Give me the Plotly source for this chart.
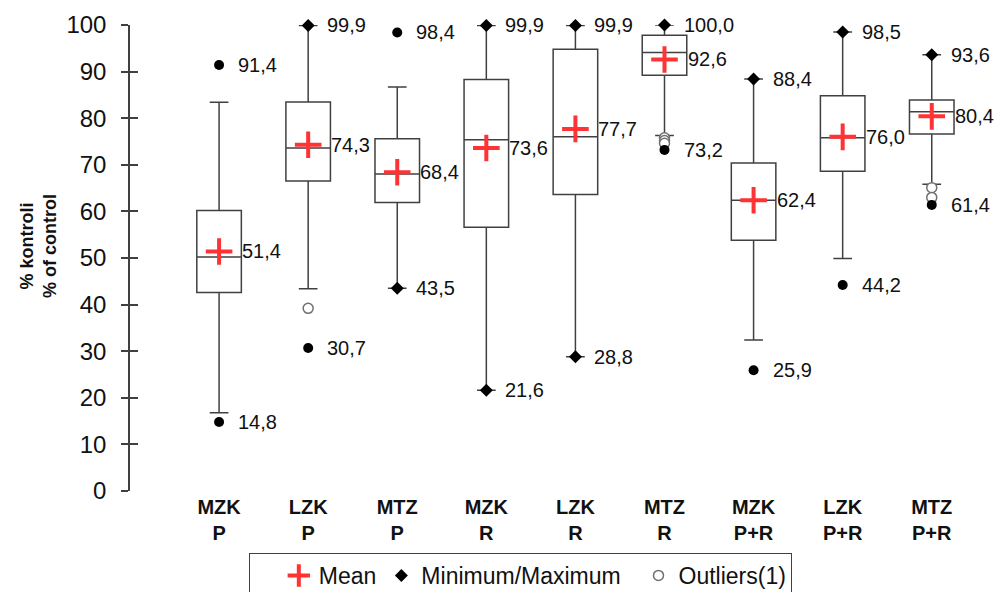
import plotly.graph_objects as go

categories = ["MZK<br>P", "LZK<br>P", "MTZ<br>P", "MZK<br>R", "LZK<br>R",
              "MTZ<br>R", "MZK<br>P+R", "LZK<br>P+R", "MTZ<br>P+R"]
q1 = [42.6, 66.5, 61.9, 56.6, 63.6, 89.2, 53.8, 68.6, 76.6]
median = [50.2, 73.6, 68.0, 75.4, 76.0, 94.1, 62.4, 75.8, 81.4]
q3 = [60.2, 83.5, 75.6, 88.3, 94.8, 97.8, 70.4, 84.8, 83.9]
lower_whisker = [16.8, 43.4, 43.5, 21.6, 28.8, 76.3, 32.4, 49.9, 65.8]
upper_whisker = [83.4, 99.9, 86.7, 99.9, 99.9, 100.0, 88.4, 98.5, 93.6]
means = [51.4, 74.3, 68.4, 73.6, 77.7, 92.6, 62.4, 76.0, 80.4]
minimums = [14.8, 30.7, 43.5, 21.6, 28.8, 73.2, 25.9, 44.2, 61.4]
maximums = [91.4, 99.9, 98.4, 99.9, 99.9, 100.0, 88.4, 98.5, 93.6]
outlier_index = [1, 5, 5, 5, 8, 8]
outlier_values = [39.2, 75.8, 75.2, 74.6, 65.1, 63.0]
y_ticks = [0, 10, 20, 30, 40, 50, 60, 70, 80, 90, 100]

FONT = "Liberation Sans, Arial, sans-serif"
TXT = "#111111"
LINE = "#404040"


def fmt(v):
    return f"{v:.1f}".replace(".", ",")


fig = go.Figure()

fig.add_trace(go.Box(
    x=categories, q1=q1, median=median, q3=q3,
    lowerfence=lower_whisker, upperfence=upper_whisker,
    boxpoints=False, fillcolor="white",
    line=dict(color=LINE, width=1.5), width=0.5, whiskerwidth=0.42,
    showlegend=False, hoverinfo="skip",
))

fig.add_trace(go.Scatter(
    x=categories, y=means, mode="markers", name="Mean", legendrank=1,
    marker=dict(symbol="cross-thin", size=19, color="#ff3333",
                line=dict(color="#ff3333", width=4)),
))

# min / max split into on-whisker (diamond) and beyond-whisker (dot)
ext_cat, ext_val, on_cat, on_val = [], [], [], []
for i, c in enumerate(categories):
    for v, w in ((minimums[i], lower_whisker[i]), (maximums[i], upper_whisker[i])):
        if abs(v - w) < 0.05:
            on_cat.append(c); on_val.append(v)
        else:
            ext_cat.append(c); ext_val.append(v)

fig.add_trace(go.Scatter(
    x=[categories[i] for i in outlier_index], y=outlier_values, mode="markers",
    name="Outliers(1)", legendrank=3, cliponaxis=False,
    marker=dict(symbol="circle", size=10, color="white",
                line=dict(color="#707070", width=1.5)),
))

fig.add_trace(go.Scatter(
    x=on_cat, y=on_val, mode="markers", name="Minimum/Maximum\u00a0\u00a0",
    legendrank=2, cliponaxis=False,
    marker=dict(symbol="diamond", size=10, color="black"),
))
fig.add_trace(go.Scatter(
    x=ext_cat, y=ext_val, mode="markers", showlegend=False, cliponaxis=False,
    marker=dict(symbol="circle", size=10, color="black"),
))

# invisible trace for the inside tick marks axis
fig.add_trace(go.Scatter(x=[categories[0]], y=[0], yaxis="y2", mode="markers",
                         marker=dict(opacity=0), showlegend=False, hoverinfo="skip"))

annotations = []
for i, c in enumerate(categories):
    annotations.append(dict(x=c, y=means[i], text=fmt(means[i]), xanchor="left",
                            yanchor="middle", xshift=21, showarrow=False,
                            font=dict(size=20, color=TXT, family=FONT)))
    for v in (minimums[i], maximums[i]):
        annotations.append(dict(x=c, y=v, text=fmt(v), xanchor="left",
                                yanchor="middle", xshift=17, showarrow=False,
                                font=dict(size=20, color=TXT, family=FONT)))

annotations.append(dict(
    xref="paper", yref="paper", x=0, y=0.5, xshift=-92, yshift=12,
    text="% kontroli<br>% of control", textangle=-90, showarrow=False,
    xanchor="center", yanchor="middle",
    font=dict(size=18, color=TXT, family=FONT, weight="bold"),
))

fig.update_layout(
    width=995, height=592,
    margin=dict(l=130, r=0, t=25, b=101, autoexpand=False),
    paper_bgcolor="white", plot_bgcolor="white",
    font=dict(family=FONT, color=TXT),
    xaxis=dict(type="category", range=[-1, 8.71], showline=False, showgrid=False,
               zeroline=False, ticks="", ticklabelstandoff=2,
               tickfont=dict(size=20, color=TXT, family=FONT, weight="bold")),
    yaxis=dict(range=[0, 100], tickvals=y_ticks, showline=True, linecolor=LINE,
               linewidth=1.5, ticks="outside", ticklen=7, tickcolor=LINE,
               tickwidth=1.5, showgrid=False, zeroline=False,
               ticklabelstandoff=10,
               tickfont=dict(size=24, color=TXT, family=FONT)),
    yaxis2=dict(range=[0, 100], overlaying="y", side="left", anchor="x",
                tickvals=y_ticks, ticks="inside", ticklen=8, tickcolor=LINE,
                tickwidth=1.5, showticklabels=False, showline=False,
                showgrid=False, zeroline=False),
    legend=dict(orientation="h", x=0.452, xanchor="center", y=-0.133,
                yanchor="top", bordercolor=LINE, borderwidth=1, bgcolor="white",
                font=dict(size=23, color=TXT, family=FONT),
                title=dict(text="\u00a0\u00a0\u00a0", side="left",
                           font=dict(size=22, family=FONT)),
                traceorder="normal", itemwidth=30),
    annotations=annotations,
    showlegend=True,
)

fig.write_html("out.html")
